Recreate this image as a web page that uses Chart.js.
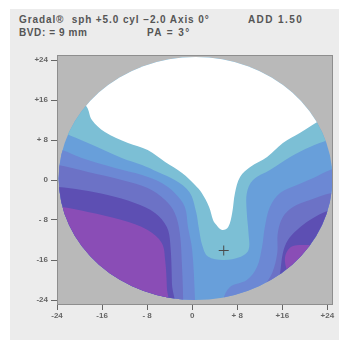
<!DOCTYPE html>
<html>
<head>
<meta charset="utf-8">
<script src="https://cdn.jsdelivr.net/npm/chart.js@4.4.1/dist/chart.umd.min.js"></script>
<style>
  html, body { margin: 0; padding: 0; background: #ffffff; }
  #wrap { position: relative; width: 339px; height: 340px; overflow: hidden; filter: blur(0.45px); }
  #panel { position: absolute; left: 10px; top: 9px; width: 329px; height: 331px; background: #ececec; }
  .hd { position: absolute; font: bold 10px "Liberation Sans", Arial, sans-serif; color: #555; white-space: pre; letter-spacing: 0.9px; }
  #chart { position: absolute; left: 0; top: 0; }
</style>
</head>
<body>
<div id="wrap">
  <div id="panel"></div>
  <div class="hd" style="left:19px; top:14px;">Gradal®  sph +5.0 cyl −2.0 Axis 0°</div>
  <div class="hd" style="left:248px; top:14px; letter-spacing:1.4px;">ADD 1.50</div>
  <div class="hd" style="left:19px; top:27px; letter-spacing:0.6px;">BVD: = 9 mm</div>
  <div class="hd" style="left:147px; top:27px; letter-spacing:1.4px;">PA = 3°</div>
  <canvas id="chart" width="339" height="340"></canvas>
</div>
<script>
// Axis ticks (mm on the lens)
const xTicks = [-24, -16, -8, 0, 8, 16, 24];
const xTickLabels = ['-24', '-16', '- 8', '0', '+ 8', '+16', '+24'];
const yTicks = [-24, -16, -8, 0, 8, 16, 24];
const yTickLabels = ['-24', '-16', '- 8', '0', '+ 8', '+16', '+24'];

// Lens outline: centre and radius in mm
const lensCenter = [0.6, 0.3];
const lensRadius = 24.3;

// Fitting cross position
const fittingCross = [5.6, -14.1];

// Iso-power zone outlines (mm), each closed outside the lens
const zoneWhite = [[-21, 17.5], [-18.7, 14.6], [-17.8, 12.0], [-15.5, 9.6], [-11.4, 7.4], [-7.9, 6.0], [-4.8, 3.6], [-1.8, 1.4], [0.5, -1.0], [1.7, -2.6], [3.0, -5.4], [3.7, -8.0], [4.0, -8.6], [5.3, -10.0], [6.4, -9.4], [7.1, -6.6], [7.6, -2.6], [8.5, 0.6], [10.3, 2.6], [13.3, 4.6], [16.1, 7.4], [19.1, 9.4], [22.2, 11.6], [25, 13.5], [28, 30], [-28, 30]];
const zoneCyan = [[-24.6, 10.6], [-22.6, 9.4], [-18.5, 7.4], [-12.5, 4.4], [-8.9, 3.0], [-6.1, 1.6], [-3.1, 0.0], [-0.5, -2.4], [0.7, -6.4], [1.2, -9.8], [1.8, -13.1], [2.8, -15.3], [5.5, -16.0], [8.5, -15.4], [10.0, -14.0], [10.0, -10.6], [9.7, -6.6], [9.7, -2.6], [10.8, 0.0], [13.8, 2.0], [17.4, 4.6], [20.9, 6.6], [24.1, 8.0], [27, 9.0], [28, 30], [-28, 30]];

const leftMidBlue = [[-25.3, 6.4], [-23.1, 6.0], [-19.6, 4.4], [-13.7, 2.4], [-8.9, 1.0], [-5.4, -0.6], [-3.1, -2.6], [-1.3, -5.4], [-0.75, -9.4], [0.0, -14.0], [0.5, -24.0], [0.5, -28], [-30, -30], [-30, 6.4]];
const leftBlueViolet = [[-26.1, 3.0], [-23.8, 3.0], [-18.5, 1.6], [-12.5, 0.0], [-7.9, -1.6], [-4.8, -4.0], [-3.1, -6.6], [-2.2, -10.6], [-1.8, -17.4], [-1.6, -24.0], [-1.6, -28], [-30, -30], [-30, 3.0]];
const leftViolet = [[-26.1, -1.4], [-23.8, -1.4], [-19.6, -2.0], [-15.0, -3.0], [-10.2, -4.6], [-6.6, -6.6], [-4.5, -9.4], [-3.9, -12.6], [-3.6, -20.6], [-3.6, -28], [-30, -30], [-30, -1.4]];
const leftMagenta = [[-26.1, -5.4], [-23.1, -5.4], [-18.5, -6.4], [-12.5, -8.0], [-7.9, -10.0], [-5.4, -12.6], [-4.8, -16.0], [-4.5, -21.4], [-4.5, -28], [-30, -30], [-30, -5.4]];

const rightMidBlue = [[27.1, 2.4], [24.5, 2.0], [21.5, 0.4], [18.6, -1.0], [15.6, -2.6], [13.8, -5.4], [12.9, -9.4], [12.4, -13.4], [11.5, -17.4], [9.7, -20.0], [6.7, -21.4], [5.5, -24.0], [5.3, -28], [30, -30], [30, 2.4]];
const rightBlueViolet = [[27.1, -2.6], [24.8, -2.6], [20.9, -4.0], [17.9, -5.4], [16.1, -7.4], [15.2, -10.6], [15.1, -14.6], [14.2, -18.6], [12.6, -21.4], [10.8, -24.0], [10.3, -28], [30, -30], [30, -2.6]];
const rightViolet = [[27.1, -6.0], [24.5, -6.0], [20.9, -8.0], [18.6, -10.0], [17.0, -12.0], [16.1, -14.6], [15.6, -18.6], [15.1, -21.4], [14.7, -28], [30, -30], [30, -6.0]];
const rightMagenta = [[27.1, -12.6], [20.9, -13.0], [17.9, -13.2], [16.7, -14.6], [16.5, -16.6], [17.2, -18.6], [19.1, -19.2], [21.8, -18.4], [27.1, -17.0]];

const colors = {
  plot: '#b9b9b9',
  frame: '#8e8e8e',
  base: '#689fda',
  white: '#ffffff',
  cyan: '#7cbfd5',
  midBlue: '#6c88d4',
  blueViolet: '#6c72c6',
  violet: '#5d4fb3',
  magenta: '#8a4db6',
  text: '#555555'
};

const toPts = arr => arr.map(p => ({ x: p[0], y: p[1] }));

// Zones listed from bottom layer to top layer
const zones = [
  [leftMidBlue, colors.midBlue],
  [leftBlueViolet, colors.blueViolet],
  [leftViolet, colors.violet],
  [leftMagenta, colors.magenta],
  [rightMidBlue, colors.midBlue],
  [rightBlueViolet, colors.blueViolet],
  [rightViolet, colors.violet],
  [rightMagenta, colors.magenta],
  [zoneCyan, colors.cyan],
  [zoneWhite, colors.white]
];

const datasets = zones.map((z, i) => ({
  data: toPts(z[0]),
  showLine: true,
  fill: 'shape',
  backgroundColor: z[1],
  borderColor: 'rgba(0,0,0,0)',
  borderWidth: 0,
  pointRadius: 0,
  tension: 0.35,
  order: 100 - i
}));

datasets.push({
  data: [{ x: fittingCross[0], y: fittingCross[1] }],
  showLine: false,
  pointStyle: 'cross',
  pointRadius: 5,
  borderColor: '#4a4a4a',
  borderWidth: 1,
  order: 0
});

// Grey plot panel, lens disc and clipping to the lens outline
const lensClip = {
  id: 'lensClip',
  beforeDatasetsDraw(chart) {
    const { ctx, chartArea: a, scales: { x, y } } = chart;
    const cx = x.getPixelForValue(lensCenter[0]);
    const cy = y.getPixelForValue(lensCenter[1]);
    const rx = Math.abs(x.getPixelForValue(lensCenter[0] + lensRadius) - cx);
    const ry = Math.abs(y.getPixelForValue(lensCenter[1] + lensRadius) - cy);
    ctx.save();
    ctx.fillStyle = colors.plot;
    ctx.fillRect(a.left, a.top, a.right - a.left, a.bottom - a.top);
    ctx.beginPath();
    ctx.ellipse(cx, cy, rx, ry, 0, 0, Math.PI * 2);
    ctx.fillStyle = colors.base;
    ctx.fill();
    ctx.clip();
  },
  afterDatasetsDraw(chart) {
    const { ctx, chartArea: a } = chart;
    ctx.restore();
    ctx.save();
    ctx.strokeStyle = colors.frame;
    ctx.lineWidth = 1;
    ctx.strokeRect(a.left + 0.5, a.top + 0.5, a.right - a.left - 1, a.bottom - a.top - 1);
    ctx.restore();
  }
};

const tickFont = { family: '"Liberation Sans", Arial, sans-serif', size: 8, weight: 'bold' };

new Chart(document.getElementById('chart'), {
  type: 'scatter',
  data: { datasets },
  plugins: [lensClip],
  options: {
    responsive: false,
    animation: false,
    events: [],
    layout: { padding: { left: 0, top: 55, right: 6, bottom: 0 } },
    plugins: { legend: { display: false }, tooltip: { enabled: false } },
    scales: {
      x: {
        type: 'linear',
        min: -24,
        max: 25,
        afterBuildTicks: s => { s.ticks = xTicks.map(v => ({ value: v })); },
        afterFit: s => { s.height = 35; },
        grid: { display: true, drawOnChartArea: false, drawTicks: true, tickLength: 5, tickColor: '#666', color: '#666' },
        border: { display: false },
        ticks: {
          autoSkip: false,
          maxRotation: 0,
          padding: 1,
          color: '#666',
          font: tickFont,
          callback: (v, i) => xTickLabels[i]
        }
      },
      y: {
        type: 'linear',
        min: -25,
        max: 25,
        afterBuildTicks: s => { s.ticks = yTicks.map(v => ({ value: v })); },
        afterFit: s => { s.width = 57; },
        grid: { display: true, drawOnChartArea: false, drawTicks: true, tickLength: 6, tickColor: '#666', color: '#666' },
        border: { display: false },
        ticks: {
          autoSkip: false,
          padding: 3,
          color: '#666',
          font: tickFont,
          callback: (v, i) => yTickLabels[i]
        }
      }
    }
  }
});
</script>
</body>
</html>
